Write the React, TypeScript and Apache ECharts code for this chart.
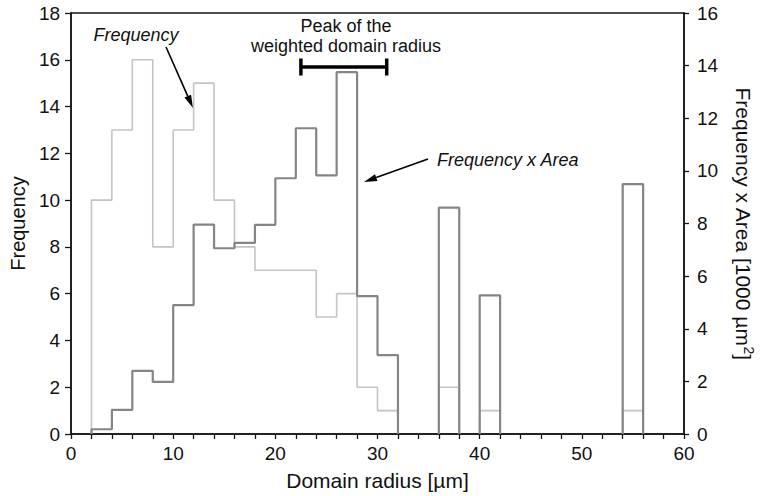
import React, { useEffect, useRef } from "react";
import * as echarts from "echarts";

// Histogram bins (left edge, µm); every bin is 2 µm wide
const binStart = [2, 4, 6, 8, 10, 12, 14, 16, 18, 20, 22, 24, 26, 28, 30, 36, 40, 54];
const binWidth = 2;
// Number of domains in each bin
const frequency = [10, 13, 16, 8, 13, 15, 10, 8, 7, 7, 7, 5, 6, 2, 1, 2, 1, 1];
// Frequency x area per bin, in 1000 µm²
const freqArea = [0.18, 0.92, 2.4, 1.98, 4.9, 7.96, 7.06, 7.26, 7.95, 9.72, 11.62, 9.83, 13.75, 5.24, 3.0, 8.6, 5.27, 9.5];
// Radius range around the peak of the area-weighted distribution (µm)
const peakRange = [22.5, 30.9];

const FONT = "'Liberation Sans', Arial, Helvetica, sans-serif";
const AXIS_COLOR = "#151515";

// Build a stepped outline: rises from the axis at the start of each run of
// adjacent bins, follows the bin tops and falls back to zero at its end.
function outline(starts: number[], values: number[]) {
  const pts: any[] = [];
  for (let i = 0; i < starts.length; i++) {
    const s = starts[i];
    const e = s + binWidth;
    const joinedPrev = i > 0 && starts[i - 1] + binWidth === s;
    const joinedNext = i < starts.length - 1 && starts[i + 1] === e;
    if (!joinedPrev) pts.push([s, 0]);
    pts.push([s, values[i]], [e, values[i]]);
    if (!joinedNext) {
      pts.push([e, 0]);
      pts.push(["-", "-"]);
    }
  }
  return pts;
}

function arrow(x1: number, y1: number, x2: number, y2: number) {
  const ang = Math.atan2(y2 - y1, x2 - x1);
  const len = 13;
  const half = 3.6;
  const bx = x2 - len * Math.cos(ang);
  const by = y2 - len * Math.sin(ang);
  const nx = -Math.sin(ang) * half;
  const ny = Math.cos(ang) * half;
  return [
    {
      type: "line",
      shape: { x1, y1, x2: bx, y2: by },
      style: { stroke: "#000", lineWidth: 1.6 },
      silent: true,
    },
    {
      type: "polygon",
      shape: { points: [[x2, y2], [bx + nx, by + ny], [bx - nx, by - ny]] },
      style: { fill: "#000" },
      silent: true,
    },
  ];
}

export default function App() {
  const ref = useRef<HTMLDivElement>(null);

  useEffect(() => {
    if (!ref.current) return;
    const chart = echarts.init(ref.current, undefined, { renderer: "svg" });

    const axisLine = { show: true, onZero: false, lineStyle: { color: AXIS_COLOR, width: 1.5 } };
    const labelStyle = { fontSize: 19, color: "#111", fontFamily: FONT };
    const nameStyle = { fontSize: 20, color: "#111", fontFamily: FONT };

    chart.setOption({
      animation: false,
      backgroundColor: "#fff",
      grid: {
        left: 71,
        right: 71,
        top: 13,
        bottom: 62,
        show: true,
        borderColor: AXIS_COLOR,
        borderWidth: 1.5,
        backgroundColor: "transparent",
      },
      xAxis: {
        type: "value",
        min: 0,
        max: 60,
        interval: 10,
        axisLine,
        axisTick: { show: true, length: 5, lineStyle: { color: AXIS_COLOR, width: 1.3 } },
        minorTick: { show: true, splitNumber: 5, length: 5, lineStyle: { color: AXIS_COLOR, width: 1.3 } },
        axisLabel: { ...labelStyle, margin: 10 },
        splitLine: { show: false },
        minorSplitLine: { show: false },
        name: "Domain radius [µm]",
        nameLocation: "middle",
        nameGap: 36,
        nameTextStyle: { ...nameStyle, fontSize: 21 },
      },
      yAxis: [
        {
          type: "value",
          min: 0,
          max: 18,
          interval: 2,
          position: "left",
          axisLine,
          axisTick: { show: true, length: 6, lineStyle: { color: AXIS_COLOR, width: 1.3 } },
          axisLabel: { ...labelStyle, margin: 11 },
          splitLine: { show: false },
          name: "Frequency",
          nameLocation: "middle",
          nameRotate: 90,
          nameGap: 41,
          nameTextStyle: nameStyle,
        },
        {
          type: "value",
          min: 0,
          max: 16,
          interval: 2,
          position: "right",
          axisLine,
          axisTick: { show: true, length: 5, lineStyle: { color: AXIS_COLOR, width: 1.3 } },
          axisLabel: { ...labelStyle, margin: 13 },
          splitLine: { show: false },
          name: "Frequency x Area [1000 µm{sup|2}]",
          nameLocation: "middle",
          nameRotate: -90,
          nameGap: 46,
          nameTextStyle: {
            ...nameStyle,
            fontSize: 21,
            lineHeight: 26,
            rich: {
              sup: { fontSize: 14, fontFamily: FONT, color: "#111", verticalAlign: "top", lineHeight: 26 },
            },
          },
        },
      ],
      series: [
        {
          name: "Frequency",
          type: "line",
          yAxisIndex: 0,
          data: outline(binStart, frequency),
          symbol: "none",
          connectNulls: false,
          lineStyle: { color: "#c4c4c4", width: 1.6 },
          z: 3,
        },
        {
          name: "Frequency x Area",
          type: "line",
          yAxisIndex: 1,
          data: outline(binStart, freqArea),
          symbol: "none",
          connectNulls: false,
          lineStyle: { color: "#858585", width: 2.2 },
          z: 4,
        },
      ],
    });

    // Annotations: labels, arrows and the peak range bar
    const xa = chart.convertToPixel({ xAxisIndex: 0 }, peakRange[0]) as number;
    const xb = chart.convertToPixel({ xAxisIndex: 0 }, peakRange[1]) as number;
    const barY = 67;
    const italic = { fontSize: 18, fontStyle: "italic", fontFamily: FONT, fill: "#111" };
    const plain = { fontSize: 18, fontFamily: FONT, fill: "#111" };

    chart.setOption({
      graphic: [
        {
          type: "text",
          x: 136,
          y: 35,
          style: { ...italic, text: "Frequency", textAlign: "center", textVerticalAlign: "middle" },
          silent: true,
        },
        ...arrow(166, 47, 193, 108),
        {
          type: "text",
          x: 437,
          y: 160,
          style: { ...italic, text: "Frequency x Area", textAlign: "left", textVerticalAlign: "middle" },
          silent: true,
        },
        ...arrow(428, 159, 364, 182),
        {
          type: "text",
          x: 346,
          y: 26,
          style: { ...plain, text: "Peak of the", textAlign: "center", textVerticalAlign: "middle" },
          silent: true,
        },
        {
          type: "text",
          x: 346,
          y: 46,
          style: { ...plain, text: "weighted domain radius", textAlign: "center", textVerticalAlign: "middle" },
          silent: true,
        },
        {
          type: "line",
          shape: { x1: xa, y1: barY, x2: xb, y2: barY },
          style: { stroke: "#000", lineWidth: 3.5 },
          silent: true,
        },
        {
          type: "line",
          shape: { x1: xa, y1: barY - 8.5, x2: xa, y2: barY + 8.5 },
          style: { stroke: "#000", lineWidth: 3.5 },
          silent: true,
        },
        {
          type: "line",
          shape: { x1: xb, y1: barY - 8.5, x2: xb, y2: barY + 8.5 },
          style: { stroke: "#000", lineWidth: 3.5 },
          silent: true,
        },
      ],
    });

    return () => chart.dispose();
  }, []);

  return (
    <div
      ref={ref}
      style={{ position: "fixed", left: 0, top: 0, width: 764, height: 496, background: "#fff" }}
    />
  );
}
